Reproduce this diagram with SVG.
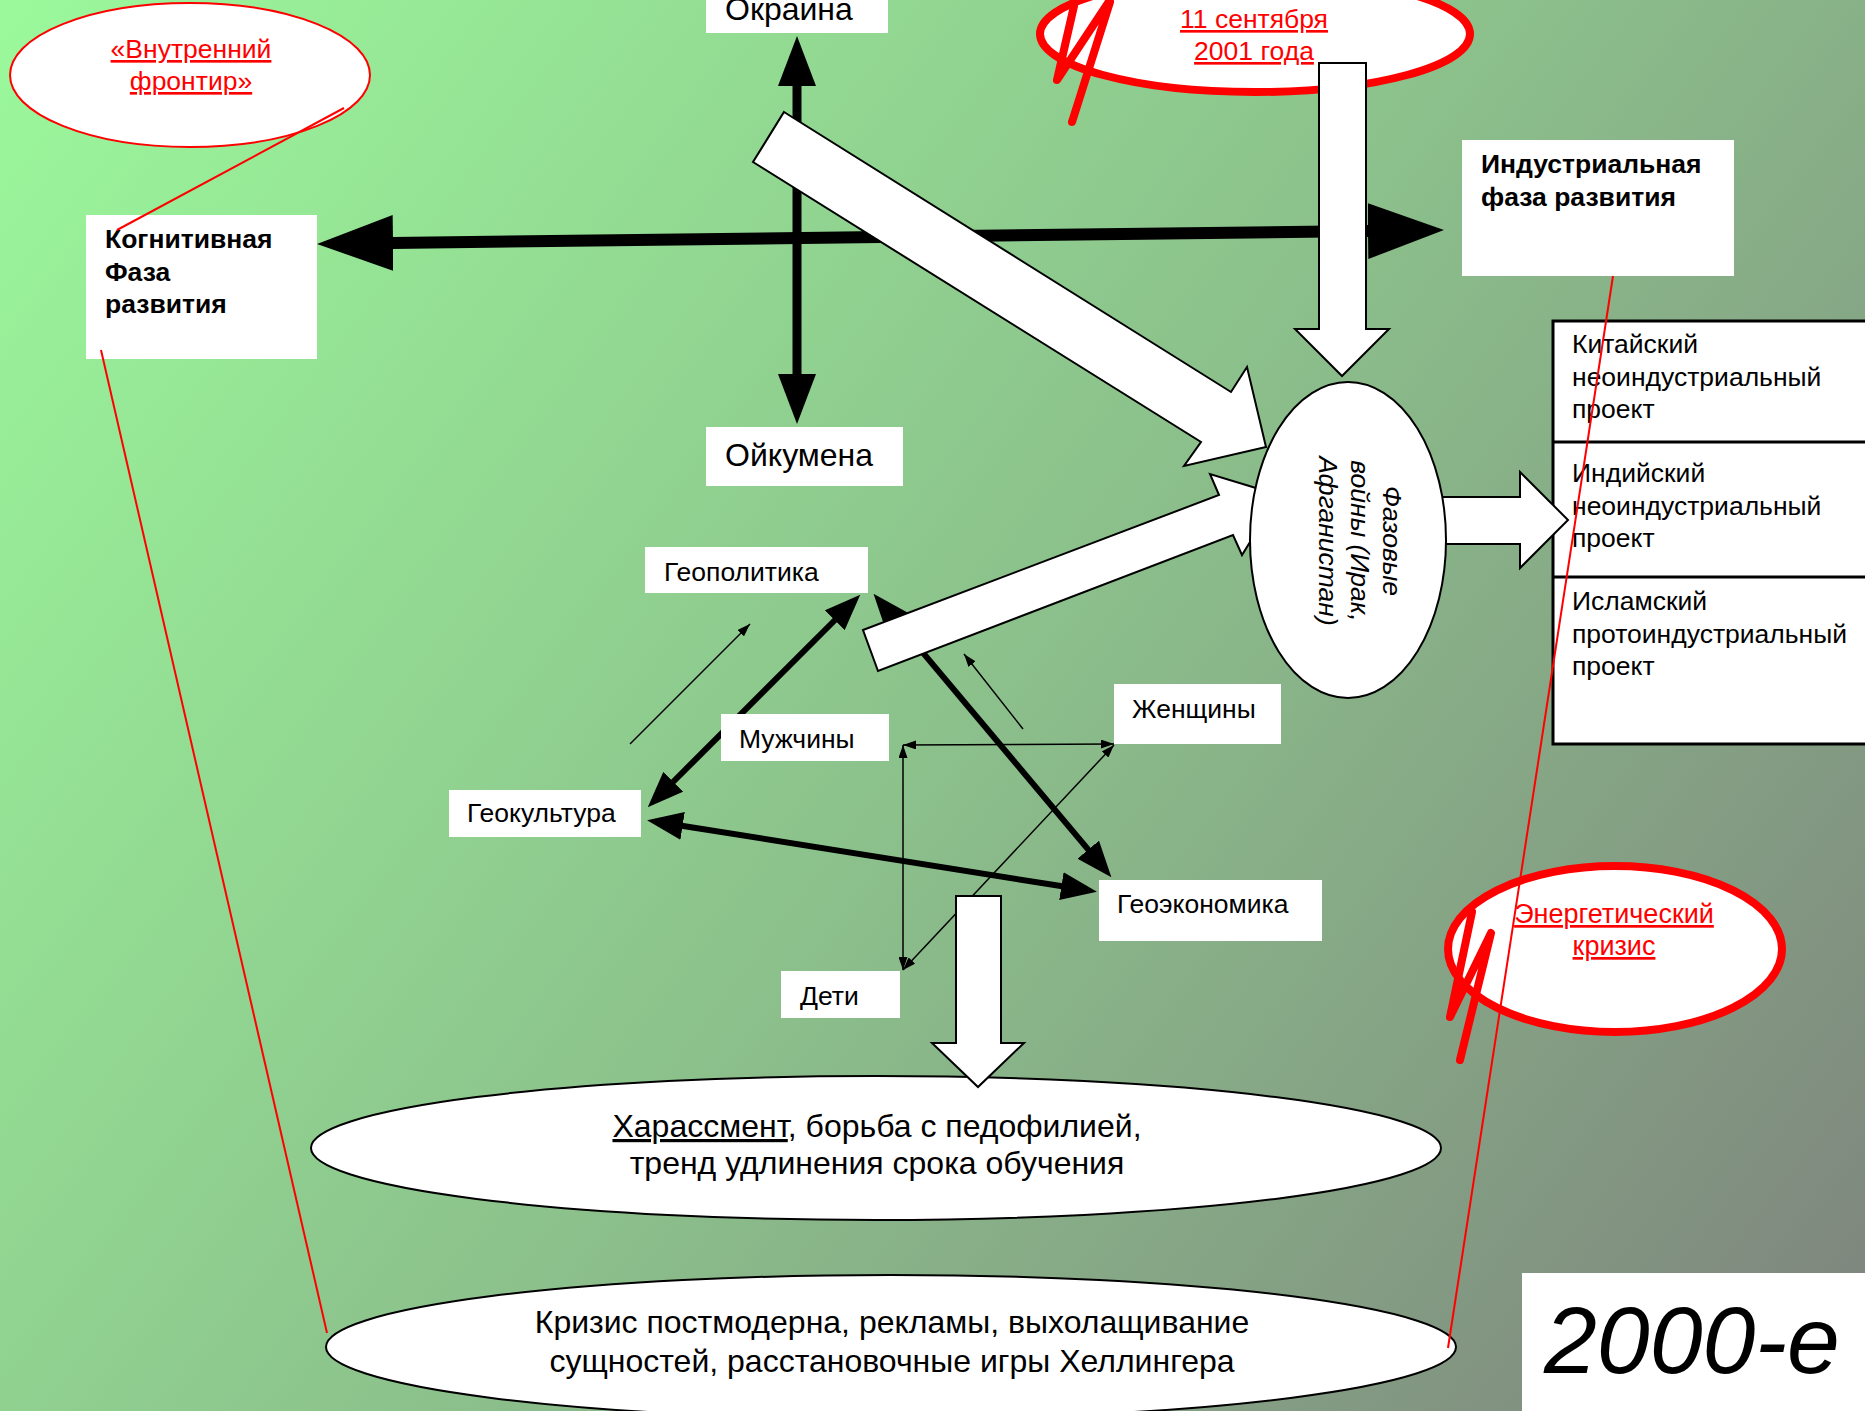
<svg xmlns="http://www.w3.org/2000/svg" width="1865" height="1411" viewBox="0 0 1865 1411">
<defs>
<linearGradient id="bg" gradientUnits="userSpaceOnUse" x1="0" y1="0" x2="1865" y2="1411">
<stop offset="0" stop-color="#9bf99b"/>
<stop offset="0.5" stop-color="#8cc28c"/>
<stop offset="1" stop-color="#7e837d"/>
</linearGradient>
<marker id="hH" markerUnits="userSpaceOnUse" markerWidth="76" markerHeight="56" viewBox="0 0 76 56" refX="1" refY="28" orient="auto-start-reverse"><path d="M0,0 L76,28 L0,56 z" fill="#000"/></marker>
<marker id="hV" markerUnits="userSpaceOnUse" markerWidth="50" markerHeight="38" viewBox="0 0 50 38" refX="1" refY="19" orient="auto-start-reverse"><path d="M0,0 L50,19 L0,38 z" fill="#000"/></marker>
<marker id="hM" markerUnits="userSpaceOnUse" markerWidth="36" markerHeight="28" viewBox="0 0 36 28" refX="1" refY="14" orient="auto-start-reverse"><path d="M0,0 L36,14 L0,28 z" fill="#000"/></marker>
<marker id="hS" markerUnits="userSpaceOnUse" markerWidth="13" markerHeight="9" viewBox="0 0 13 9" refX="13" refY="4.5" orient="auto-start-reverse"><path d="M0,0 L13,4.5 L0,9 z" fill="#000"/></marker>
<style>
text{font-family:"Liberation Sans",Arial,sans-serif;fill:#000}
.box{fill:#fff;stroke:none}
.lbl{font-size:26.5px}
.big{font-size:32px}
.bold{font-size:26.5px;font-weight:bold}
.red{fill:#f00;text-decoration:underline;font-size:26.5px}
.ell{fill:#fff;stroke:#000;stroke-width:2}
.blk{fill:#fff;stroke:#000;stroke-width:2;stroke-linejoin:miter}
.thick{stroke:#000;fill:none}
.thin{stroke:#000;stroke-width:1.5;fill:none;marker-end:url(#hS)}
.rl{stroke:#f00;stroke-width:2;fill:none}
.scr{stroke:#f00;stroke-width:8;fill:none;stroke-linecap:round;stroke-linejoin:round}
.long{font-size:32px}
</style>
</defs>
<rect x="0" y="0" width="1865" height="1411" fill="url(#bg)"/>

<g id="node-projects">
<rect x="1553" y="321" width="330" height="423" fill="#fff" stroke="#000" stroke-width="3"/>
<line x1="1553" y1="442" x2="1865" y2="442" stroke="#000" stroke-width="3"/>
<line x1="1553" y1="577" x2="1865" y2="577" stroke="#000" stroke-width="3"/>
<text class="lbl"><tspan x="1572" y="353">Китайский</tspan><tspan x="1572" y="385.5">неоиндустриальный</tspan><tspan x="1572" y="418">проект</tspan></text>
<text class="lbl"><tspan x="1572" y="482">Индийский</tspan><tspan x="1572" y="514.5">неоиндустриальный</tspan><tspan x="1572" y="547">проект</tspan></text>
<text class="lbl"><tspan x="1572" y="610">Исламский</tspan><tspan x="1572" y="642.5">протоиндустриальный</tspan><tspan x="1572" y="675">проект</tspan></text>
</g>

<g id="node-sept11">
<ellipse cx="1255" cy="34" rx="215" ry="58" fill="#fff" stroke="#f00" stroke-width="8"/>
<text class="red" text-anchor="middle"><tspan x="1254" y="28">11 сентября</tspan><tspan x="1254" y="60">2001 года</tspan></text>
<path class="scr" d="M1074,6 L1057,80 L1108,3 M1110,2 L1072,122"/>
</g>

<g id="node-harassment">
<ellipse class="ell" cx="876" cy="1148" rx="565" ry="72"/>
<text class="long" text-anchor="middle"><tspan x="877" y="1137"><tspan text-decoration="underline">Харассмент</tspan>, борьба с педофилией,</tspan><tspan x="877" y="1174">тренд удлинения срока обучения</tspan></text>
</g>

<g id="connectors">
<line class="thick" x1="392" y1="243" x2="1369" y2="231" stroke-width="12" marker-start="url(#hH)" marker-end="url(#hH)"/>
<line class="thick" x1="797" y1="85" x2="797" y2="375" stroke-width="9" marker-start="url(#hV)" marker-end="url(#hV)"/>
<line class="thick" x1="672.5" y1="782.5" x2="835.5" y2="619.5" stroke-width="6" marker-start="url(#hM)" marker-end="url(#hM)"/>
<line class="thick" x1="896" y1="620.6" x2="1088.9" y2="850.4" stroke-width="6" marker-start="url(#hM)" marker-end="url(#hM)"/>
<line class="thick" x1="681.6" y1="825.7" x2="1062.4" y2="886.3" stroke-width="6" marker-start="url(#hM)" marker-end="url(#hM)"/>
<line class="thin" x1="630" y1="744" x2="750" y2="624"/>
<line class="thin" x1="1023" y1="729" x2="964" y2="654"/>
<line class="thin" x1="903" y1="745" x2="1114" y2="744" marker-start="url(#hS)"/>
<line class="thin" x1="903" y1="745" x2="903" y2="970" marker-start="url(#hS)"/>
<line class="thin" x1="1114" y1="745" x2="903" y2="970" marker-start="url(#hS)"/>
<polygon class="blk" points="784,112 1231,392 1247,367 1266,447 1184,466 1201,442 753,162"/>
<polygon class="blk" points="863,630 1219,495 1210,474 1279,495 1242,555 1233,535 878,671"/>
<polygon class="blk" points="1319,63 1366,63 1366,329 1389,329 1342,376 1295,329 1319,329"/>
<polygon class="blk" points="1440,497 1520,497 1520,472 1568,520 1520,568 1520,544 1440,544"/>
<polygon class="blk" points="956,896 1001,896 1001,1043 1024,1043 978,1087 932,1043 956,1043"/>
</g>

<g id="node-okraina">
<rect class="box" x="706" y="0" width="182" height="33"/>
<text class="big" x="725" y="20">Окраина</text>
</g>
<g id="node-oikumena">
<rect class="box" x="706" y="427" width="197" height="59"/>
<text class="big" x="725" y="466">Ойкумена</text>
</g>
<g id="node-cognitive">
<rect class="box" x="86" y="215" width="231" height="144"/>
<text class="bold"><tspan x="105" y="248">Когнитивная</tspan><tspan x="105" y="280.5">Фаза</tspan><tspan x="105" y="313">развития</tspan></text>
</g>
<g id="node-industrial">
<rect class="box" x="1462" y="140" width="272" height="136"/>
<text class="bold"><tspan x="1481" y="173">Индустриальная</tspan><tspan x="1481" y="205.5">фаза развития</tspan></text>
</g>
<g id="node-geopolitics">
<rect class="box" x="645" y="547" width="223" height="46"/>
<text class="lbl" x="664" y="581">Геополитика</text>
</g>
<g id="node-men">
<rect class="box" x="721" y="714" width="168" height="47"/>
<text class="lbl" x="739" y="748">Мужчины</text>
</g>
<g id="node-geoculture">
<rect class="box" x="449" y="790" width="192" height="47"/>
<text class="lbl" x="467" y="822">Геокультура</text>
</g>
<g id="node-children">
<rect class="box" x="781" y="971" width="119" height="47"/>
<text class="lbl" x="800" y="1005">Дети</text>
</g>
<g id="node-women">
<rect class="box" x="1114" y="684" width="167" height="60"/>
<text class="lbl" x="1132" y="718">Женщины</text>
</g>
<g id="node-geoeconomics">
<rect class="box" x="1099" y="880" width="223" height="61"/>
<text class="lbl" x="1117" y="913">Геоэкономика</text>
</g>
<g id="node-phasewars">
<ellipse class="ell" cx="1348" cy="540" rx="98" ry="158"/>
<text transform="translate(1348,541) rotate(90)" text-anchor="middle" font-style="italic" style="font-size:26.5px"><tspan x="0" y="-35">Фазовые</tspan><tspan x="0" y="-3">войны (Ирак,</tspan><tspan x="0" y="29">Афганистан)</tspan></text>
</g>
<g id="node-crisis">
<ellipse class="ell" cx="891" cy="1347" rx="565" ry="72"/>
<text class="long" text-anchor="middle"><tspan x="892" y="1333">Кризис постмодерна, рекламы, выхолащивание</tspan><tspan x="892" y="1372">сущностей, расстановочные игры Хеллингера</tspan></text>
</g>
<g id="node-frontier">
<ellipse cx="190" cy="75" rx="180" ry="72" fill="#fff" stroke="#f00" stroke-width="2"/>
<text class="red" text-anchor="middle"><tspan x="191" y="58">«Внутренний</tspan><tspan x="191" y="90">фронтир»</tspan></text>
</g>
<g id="node-energy">
<ellipse cx="1615" cy="949" rx="167" ry="83" fill="#fff" stroke="#f00" stroke-width="8"/>
<text class="red" text-anchor="middle" style="font-size:27px"><tspan x="1614" y="923">Энергетический</tspan><tspan x="1614" y="955">кризис</tspan></text>
<path class="scr" d="M1472,912 L1450,1017 L1491,933 L1460,1060"/>
</g>
<g id="node-2000">
<rect class="box" x="1522" y="1273" width="343" height="138"/>
<text x="1544" y="1373" font-style="italic" style="font-size:95px">2000-е</text>
</g>

<g id="connectors-red">
<line class="rl" x1="344" y1="108" x2="117" y2="230"/>
<line class="rl" x1="101" y1="350" x2="327" y2="1333"/>
<line class="rl" x1="1613" y1="276" x2="1448" y2="1348"/>
</g>
</svg>
